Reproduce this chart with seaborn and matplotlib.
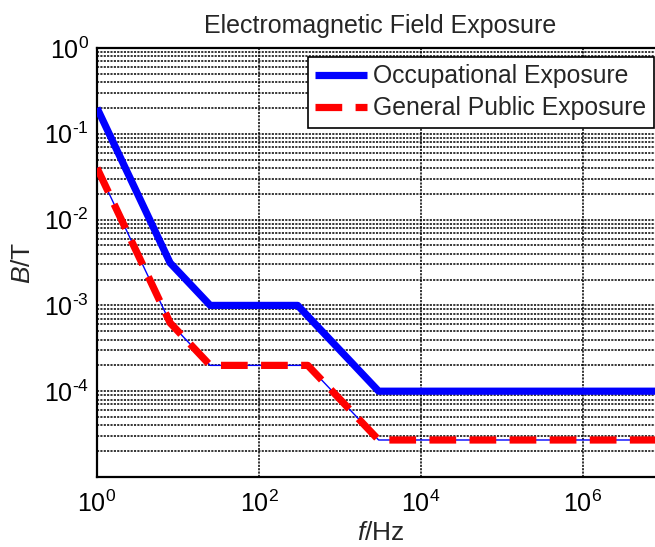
import numpy as np
import pandas as pd
import matplotlib
matplotlib.use("Agg")
import matplotlib.pyplot as plt
import seaborn as sns
from matplotlib.ticker import LogLocator, NullLocator, FixedLocator, FixedFormatter

# ---- data (ICNIRP limits, breakpoints) ----
freq_occ = [1, 8, 25, 300, 3000, 1e7]
b_occ = [0.2, 3.125e-3, 1e-3, 1e-3, 1e-4, 1e-4]
freq_pub = [1, 8, 25, 400, 3000, 1e7]
b_pub = [0.04, 6.25e-4, 2e-4, 2e-4, 2.7e-5, 2.7e-5]
label_occ = "Occupational Exposure"
label_pub = "General Public Exposure"
title = "Electromagnetic Field Exposure"
xticks = [1, 1e2, 1e4, 1e6]
xticklabels = ["$10^{0}$", "$10^{2}$", "$10^{4}$", "$10^{6}$"]
yticks = [1e-5, 1e-4, 1e-3, 1e-2, 1e-1, 1]
yticklabels = ["", "$10^{\\text{-4}}$", "$10^{\\text{-3}}$", "$10^{\\text{-2}}$",
               "$10^{\\text{-1}}$", "$10^{0}$"]

df_occ = pd.DataFrame({"f": freq_occ, "B": b_occ})
df_pub = pd.DataFrame({"f": freq_pub, "B": b_pub})

sns.set_style("white")
plt.rcParams["font.family"] = ["Liberation Sans", "DejaVu Sans"]
plt.rcParams["mathtext.fontset"] = "custom"
plt.rcParams["mathtext.rm"] = "Liberation Sans"
plt.rcParams["mathtext.it"] = "Liberation Sans:italic"
plt.rcParams["mathtext.default"] = "regular"

fig = plt.figure(figsize=(6.55, 5.47), dpi=100)
W, H = 655, 547
left, right, top, bottom = 97, 664, 48, 477
ax = fig.add_axes([left / W, (H - bottom) / H, (right - left) / W, (bottom - top) / H])

sns.lineplot(data=df_occ, x="f", y="B", ax=ax, color=(0, 0, 1), lw=5.2,
             estimator=None, sort=False, legend=False, zorder=3)
sns.lineplot(data=df_pub, x="f", y="B", ax=ax, color=(0, 0, 1), lw=1,
             estimator=None, sort=False, legend=False, zorder=3)
sns.lineplot(data=df_pub, x="f", y="B", ax=ax, color=(1, 0, 0), lw=5.2,
             estimator=None, sort=False, legend=False, zorder=4)
lines = ax.get_lines()
lines[2].set_linestyle((0, (3.7, 1.85)))
lines[2].set_dash_capstyle("butt")
lines[0].set_solid_capstyle("butt")

ax.set_xscale("log")
ax.set_yscale("log")
ax.set_xlim(1, 1e7)
ax.set_ylim(1e-5, 1)

ax.xaxis.set_major_locator(FixedLocator(xticks))
ax.xaxis.set_major_formatter(FixedFormatter(xticklabels))
ax.xaxis.set_minor_locator(NullLocator())
ax.yaxis.set_major_locator(FixedLocator(yticks))
ax.yaxis.set_major_formatter(FixedFormatter(yticklabels))
ax.yaxis.set_minor_locator(LogLocator(base=10, subs=np.arange(2, 10), numticks=20))

grid_style = dict(color="black", linestyle=(0, (1.4, 0.8)), lw=1.1)
ax.grid(True, which="major", axis="both", **grid_style)
ax.grid(True, which="minor", axis="y", **grid_style)
ax.set_axisbelow(True)

ax.tick_params(axis="both", which="both", direction="in", labelsize=18, colors="black")
ax.tick_params(axis="x", which="major", length=5, width=0.8, pad=10)
ax.tick_params(axis="y", which="major", length=5, width=0.8, pad=6)
ax.tick_params(axis="y", which="minor", length=3, width=0.6)

for s in ax.spines.values():
    s.set_color("black")
    s.set_linewidth(1.6)

ax.set_title(title, fontsize=18, pad=11)
ax.set_xlabel("$\\mathit{f}$/Hz", fontsize=19, labelpad=3)
ax.set_ylabel("$\\mathit{B}$/T", fontsize=19, labelpad=6)

leg = ax.legend([lines[0], lines[2]], [label_occ, label_pub], loc="upper right",
                bbox_to_anchor=(654 / W, 1 - 57 / H), bbox_transform=fig.transFigure,
                borderaxespad=0, fontsize=17.8, frameon=True, fancybox=False,
                framealpha=1, edgecolor="black", borderpad=0.3, labelspacing=0.32,
                handlelength=2.1, handletextpad=0.25)
leg.get_frame().set_linewidth(1.2)

fig.savefig("out.png", dpi=100)
